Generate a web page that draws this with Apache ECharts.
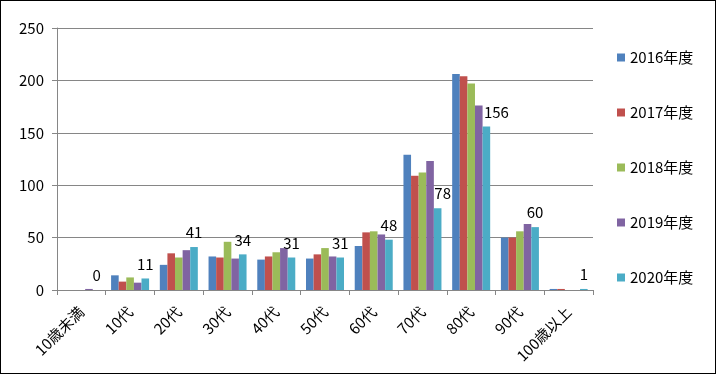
<!DOCTYPE html>
<html>
<head>
<meta charset="utf-8">
<script src="https://cdn.jsdelivr.net/npm/echarts@6/dist/echarts.min.js"></script>
<style>
html,body{margin:0;padding:0;background:#fff;}
#c{width:716px;height:374px;box-sizing:border-box;border:1px solid #000;background:#fff;}
</style>
</head>
<body>
<div id="c"></div>
<script>
const categories = ['10歳未満','10代','20代','30代','40代','50代','60代','70代','80代','90代','100歳以上'];
const seriesNames = ['2016年度','2017年度','2018年度','2019年度','2020年度'];
const y2016 = [0, 14, 24, 32, 29, 30, 42, 129, 206, 50, 1];
const y2017 = [0, 8, 35, 31, 32, 34, 55, 109, 204, 50, 1];
const y2018 = [0, 12, 31, 46, 36, 40, 56, 112, 197, 56, 0];
const y2019 = [1, 7, 38, 30, 40, 32, 53, 123, 176, 63, 0];
const y2020 = [0, 11, 41, 34, 31, 31, 48, 78, 156, 60, 1];
const yTicks = [0, 50, 100, 150, 200, 250];

const colors = ['#4F81BD','#C0504D','#9BBB59','#8064A2','#4BACC6'];
const allValues = [y2016, y2017, y2018, y2019, y2020];
const font = '"Noto Sans CJK JP", "Noto Sans", sans-serif';
const gridColor = '#868686';

// label nudges for the 2020 series (Excel labels moved manually)
const nudge = {7: [5, 0], 8: [10, 0]};

const series = seriesNames.map((name, i) => {
  const s = {
    name: name,
    type: 'bar',
    barGap: '0%',
    barCategoryGap: '22%',
    itemStyle: {color: colors[i]},
    data: allValues[i].map((v, j) => {
      const d = {value: v};
      if (i === 4 && nudge[j]) d.label = {offset: nudge[j]};
      return d;
    })
  };
  if (i === 4) {
    s.label = {show: true, position: 'top', distance: 7, color: '#000', fontSize: 15, fontFamily: font};
  }
  return s;
});

const chart = echarts.init(document.getElementById('c'), null, {renderer: 'canvas'});
chart.setOption({
  animation: false,
  backgroundColor: '#fff',
  color: colors,
  grid: {left: 56, right: 122, top: 27, bottom: 83, containLabel: false},
  legend: {
    orient: 'vertical',
    left: 616,
    top: 49,
    padding: 0,
    itemWidth: 8,
    itemHeight: 8,
    itemGap: 40,
    icon: 'rect',
    textStyle: {fontSize: 15, color: '#000', fontFamily: font},
    data: seriesNames
  },
  xAxis: {
    type: 'category',
    data: categories,
    axisLine: {lineStyle: {color: gridColor}},
    axisTick: {show: true, length: 5, lineStyle: {color: gridColor}},
    axisLabel: {rotate: 45, margin: 19, fontSize: 15, color: '#000', fontFamily: font, interval: 0}
  },
  yAxis: {
    type: 'value',
    min: yTicks[0],
    max: yTicks[yTicks.length - 1],
    interval: yTicks[1] - yTicks[0],
    axisLine: {show: true, lineStyle: {color: gridColor}},
    axisTick: {show: true, length: 5, lineStyle: {color: gridColor}},
    splitLine: {lineStyle: {color: gridColor}},
    axisLabel: {margin: 13, fontSize: 15, color: '#000', fontFamily: font}
  },
  series: series
});
</script>
</body>
</html>
